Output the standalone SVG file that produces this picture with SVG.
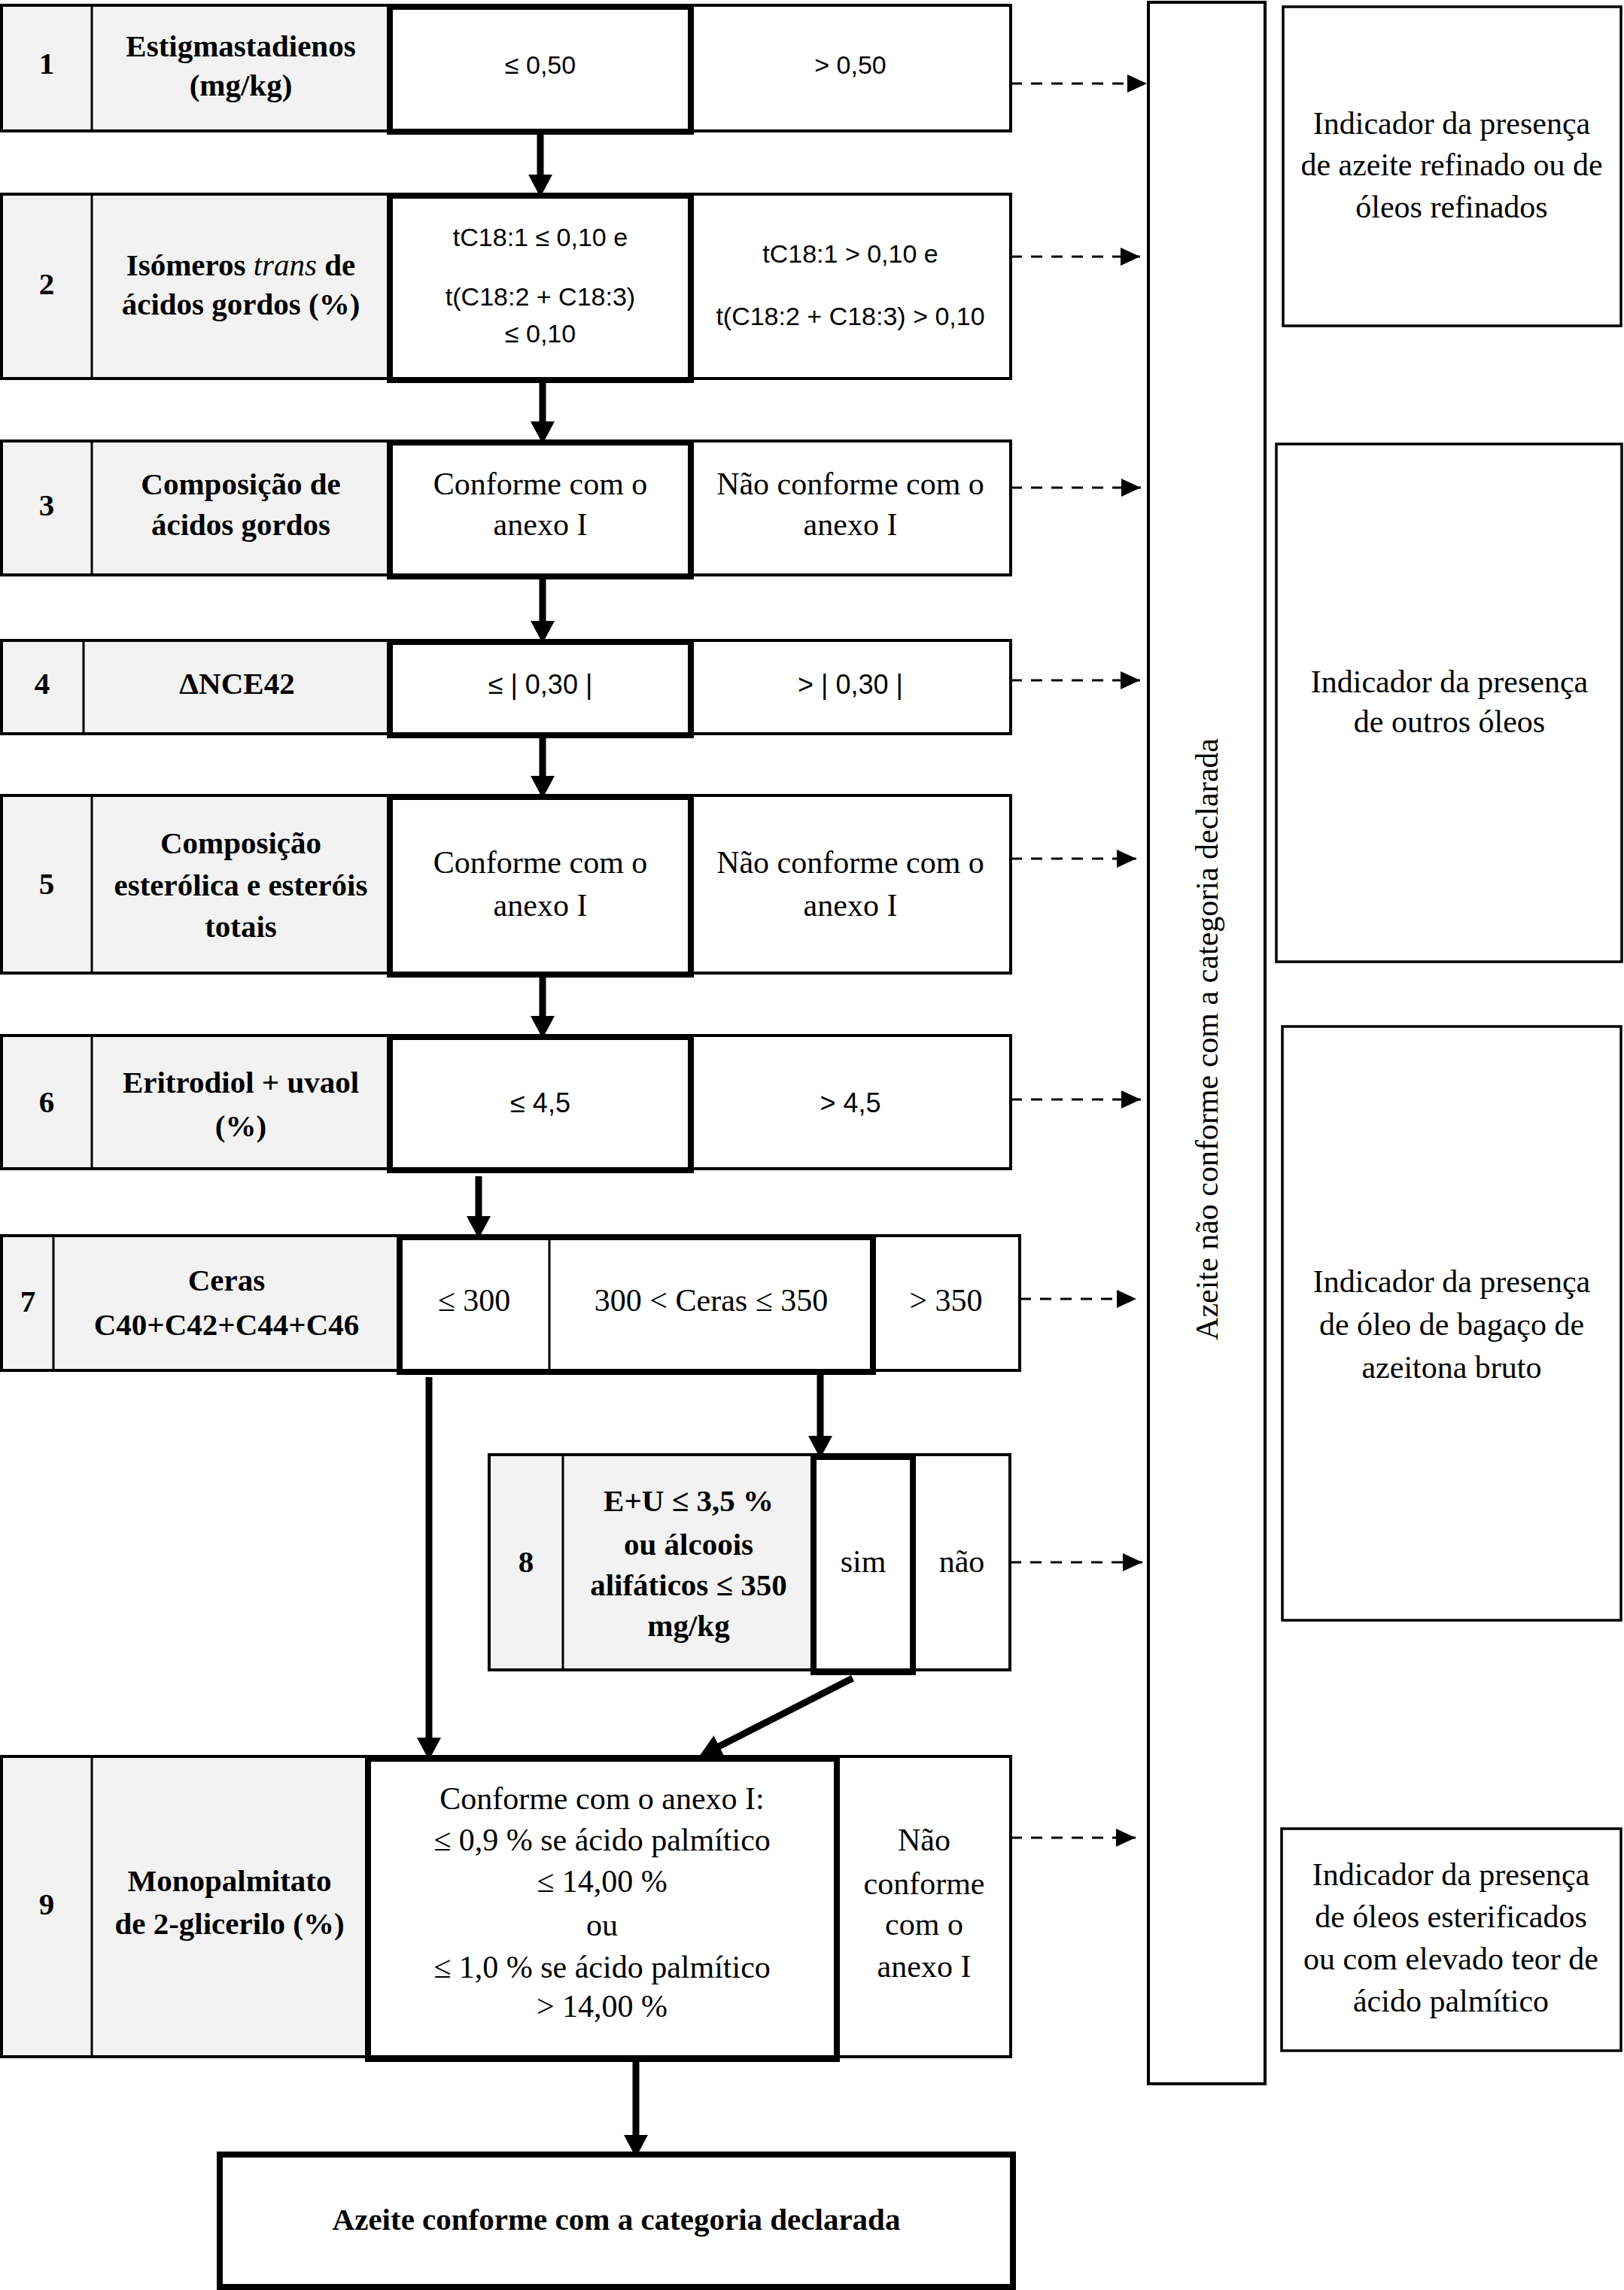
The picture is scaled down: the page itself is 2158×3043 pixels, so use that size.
<svg xmlns="http://www.w3.org/2000/svg" width="2158" height="3043" viewBox="0 0 2158 3043">
<defs>
<style>
.thin{fill:none;stroke:#000;stroke-width:4}
.dv{stroke:#000;stroke-width:3}
.bold{fill:none;stroke:#000;stroke-width:8}
.box{fill:#fff;stroke:#000;stroke-width:3.5}
.gray{fill:#f2f2f2}
.t{font-family:"Liberation Serif","Times New Roman",serif;font-size:42px;text-anchor:middle;fill:#000}
.b{font-weight:bold;font-size:41px}
.s{font-family:"Liberation Sans",Arial,sans-serif;font-size:34px}
.s2{font-family:"Liberation Sans",Arial,sans-serif;font-size:36px}
.arr{stroke:#000;stroke-width:9;fill:none}
.dash{stroke:#000;stroke-width:3;stroke-dasharray:15 12;fill:none}
</style>
<marker id="ah" markerUnits="userSpaceOnUse" markerWidth="30" markerHeight="32" refX="16" refY="16" orient="auto">
<path d="M0,0 L30,16 L0,32 z" fill="#000"/>
</marker>
<marker id="dh" markerUnits="userSpaceOnUse" markerWidth="26" markerHeight="24" refX="26" refY="12" orient="auto">
<path d="M0,0 L26,12 L0,24 z" fill="#000"/>
</marker>
</defs>
<rect width="2158" height="3043" fill="#fff"/>

<!-- Row 1 -->
<g id="row1">
<rect class="gray" x="2" y="7" width="516" height="167"/>
<rect class="thin" x="2" y="7" width="1341" height="167"/>
<line class="dv" x1="122" y1="7" x2="122" y2="174"/>
<rect class="bold" x="518" y="9" width="400" height="166"/>
<text class="t b" x="62" y="98">1</text>
<text class="t b" x="320" y="75">Estigmastadienos</text>
<text class="t b" x="320" y="127">(mg/kg)</text>
<text class="t s" x="718" y="98">≤ 0,50</text>
<text class="t s" x="1130" y="98">&gt; 0,50</text>
</g>

<!-- Row 2 -->
<g id="row2">
<rect class="gray" x="2" y="258" width="516" height="245"/>
<rect class="thin" x="2" y="258" width="1341" height="245"/>
<line class="dv" x1="122" y1="258" x2="122" y2="503"/>
<rect class="bold" x="518" y="260" width="400" height="245"/>
<text class="t b" x="62" y="391">2</text>
<text class="t b" x="320" y="366">Isómeros <tspan font-style="italic" font-weight="normal">trans</tspan> de</text>
<text class="t b" x="320" y="418">ácidos gordos (%)</text>
<text class="t s" x="718" y="327">tC18:1 ≤ 0,10 e</text>
<text class="t s" x="718" y="406">t(C18:2 + C18:3)</text>
<text class="t s" x="718" y="455">≤ 0,10</text>
<text class="t s" x="1130" y="349">tC18:1 &gt; 0,10 e</text>
<text class="t s" x="1130" y="432">t(C18:2 + C18:3) &gt; 0,10</text>
</g>

<!-- Row 3 -->
<g id="row3">
<rect class="gray" x="2" y="586" width="516" height="178"/>
<rect class="thin" x="2" y="586" width="1341" height="178"/>
<line class="dv" x1="122" y1="586" x2="122" y2="764"/>
<rect class="bold" x="518" y="588" width="400" height="178"/>
<text class="t b" x="62" y="685">3</text>
<text class="t b" x="320" y="657">Composição de</text>
<text class="t b" x="320" y="711">ácidos gordos</text>
<text class="t" x="718" y="657">Conforme com o</text>
<text class="t" x="718" y="711">anexo I</text>
<text class="t" x="1130" y="657">Não conforme com o</text>
<text class="t" x="1130" y="711">anexo I</text>
</g>

<!-- Row 4 -->
<g id="row4">
<rect class="gray" x="2" y="851" width="516" height="124"/>
<rect class="thin" x="2" y="851" width="1341" height="124"/>
<line class="dv" x1="111" y1="851" x2="111" y2="975"/>
<rect class="bold" x="518" y="853" width="400" height="124"/>
<text class="t b" x="56" y="922">4</text>
<text class="t b" x="315" y="922">ΔNCE42</text>
<text class="t s2" x="718" y="922">≤ | 0,30 |</text>
<text class="t s2" x="1130" y="922">&gt; | 0,30 |</text>
</g>

<!-- Row 5 -->
<g id="row5">
<rect class="gray" x="2" y="1057" width="516" height="236"/>
<rect class="thin" x="2" y="1057" width="1341" height="236"/>
<line class="dv" x1="122" y1="1057" x2="122" y2="1293"/>
<rect class="bold" x="518" y="1059" width="400" height="236"/>
<text class="t b" x="62" y="1188">5</text>
<text class="t b" x="320" y="1134">Composição</text>
<text class="t b" x="320" y="1190">esterólica e esteróis</text>
<text class="t b" x="320" y="1245">totais</text>
<text class="t" x="718" y="1160">Conforme com o</text>
<text class="t" x="718" y="1217">anexo I</text>
<text class="t" x="1130" y="1160">Não conforme com o</text>
<text class="t" x="1130" y="1217">anexo I</text>
</g>

<!-- Row 6 -->
<g id="row6">
<rect class="gray" x="2" y="1376" width="516" height="177"/>
<rect class="thin" x="2" y="1376" width="1341" height="177"/>
<line class="dv" x1="122" y1="1376" x2="122" y2="1553"/>
<rect class="bold" x="518" y="1378" width="400" height="177"/>
<text class="t b" x="62" y="1478">6</text>
<text class="t b" x="320" y="1452">Eritrodiol + uvaol</text>
<text class="t b" x="320" y="1510">(%)</text>
<text class="t s2" x="718" y="1478">≤ 4,5</text>
<text class="t s2" x="1130" y="1478">&gt; 4,5</text>
</g>

<!-- Row 7 -->
<g id="row7">
<rect class="gray" x="2" y="1642" width="529" height="179"/>
<rect class="thin" x="2" y="1642" width="1353" height="179"/>
<line class="dv" x1="71" y1="1642" x2="71" y2="1821"/>
<line class="dv" x1="730" y1="1642" x2="730" y2="1821"/>
<rect class="bold" x="531" y="1644" width="629" height="179"/>
<text class="t b" x="37" y="1743">7</text>
<text class="t b" x="301" y="1715">Ceras</text>
<text class="t b" x="301" y="1774">C40+C42+C44+C46</text>
<text class="t" x="630" y="1742">≤ 300</text>
<text class="t" x="945" y="1742">300 &lt; Ceras ≤ 350</text>
<text class="t" x="1257" y="1742">&gt; 350</text>
</g>

<!-- Row 8 -->
<g id="row8">
<rect class="gray" x="650" y="1933" width="431" height="286"/>
<rect class="thin" x="650" y="1933" width="692" height="286"/>
<line class="dv" x1="748" y1="1933" x2="748" y2="2219"/>
<rect class="bold" x="1081" y="1936" width="132" height="286"/>
<text class="t b" x="699" y="2089">8</text>
<text class="t b" x="915" y="2008">E+U ≤ 3,5 %</text>
<text class="t b" x="915" y="2066">ou álcoois</text>
<text class="t b" x="915" y="2120">alifáticos ≤ 350</text>
<text class="t b" x="915" y="2174">mg/kg</text>
<text class="t" x="1147" y="2089">sim</text>
<text class="t" x="1278" y="2089">não</text>
</g>

<!-- Row 9 -->
<g id="row9">
<rect class="gray" x="2" y="2334" width="487" height="399"/>
<rect class="thin" x="2" y="2334" width="1341" height="399"/>
<line class="dv" x1="122" y1="2334" x2="122" y2="2733"/>
<rect class="bold" x="489" y="2337" width="623" height="399"/>
<text class="t b" x="62" y="2544">9</text>
<text class="t b" x="305" y="2513">Monopalmitato</text>
<text class="t b" x="305" y="2570">de 2-glicerilo (%)</text>
<text class="t" x="800" y="2404">Conforme com o anexo I:</text>
<text class="t" x="800" y="2459">≤ 0,9 % se ácido palmítico</text>
<text class="t" x="800" y="2514">≤ 14,00 %</text>
<text class="t" x="800" y="2572">ou</text>
<text class="t" x="800" y="2628">≤ 1,0 % se ácido palmítico</text>
<text class="t" x="800" y="2680">&gt; 14,00 %</text>
<text class="t" x="1228" y="2459">Não</text>
<text class="t" x="1228" y="2517">conforme</text>
<text class="t" x="1228" y="2571">com o</text>
<text class="t" x="1228" y="2627">anexo I</text>
</g>

<!-- Final -->
<g id="final">
<rect class="bold" x="292" y="2863" width="1054" height="176"/>
<text class="t b" x="819" y="2963">Azeite conforme com a categoria declarada</text>
</g>

<!-- Tall box -->
<g id="nao-conforme">
<rect class="thin" x="1526" y="3" width="155" height="2766"/>
<text class="t" x="1604" y="1395" transform="rotate(-90 1604 1381)" font-size="41">Azeite não conforme com a categoria declarada</text>
</g>

<!-- Right boxes -->
<g id="ind-refinado">
<rect class="box" x="1705" y="9" width="449" height="424"/>
<text class="t" x="1929" y="178">Indicador da presença</text>
<text class="t" x="1929" y="233">de azeite refinado ou de</text>
<text class="t" x="1929" y="289">óleos refinados</text>
</g>
<g id="ind-outros">
<rect class="box" x="1696" y="590" width="459" height="688"/>
<text class="t" x="1926" y="920">Indicador da presença</text>
<text class="t" x="1926" y="973">de outros óleos</text>
</g>
<g id="ind-bagaco">
<rect class="box" x="1704" y="1364" width="450" height="789"/>
<text class="t" x="1929" y="1717">Indicador da presença</text>
<text class="t" x="1929" y="1774">de óleo de bagaço de</text>
<text class="t" x="1929" y="1831">azeitona bruto</text>
</g>
<g id="ind-esterificados">
<rect class="box" x="1703" y="2430" width="451" height="295"/>
<text class="t" x="1928" y="2505">Indicador da presença</text>
<text class="t" x="1928" y="2561">de óleos esterificados</text>
<text class="t" x="1928" y="2617">ou com elevado teor de</text>
<text class="t" x="1928" y="2673">ácido palmítico</text>
</g>

<!-- Connectors -->
<g id="connectors">
<line class="arr" x1="718" y1="178" x2="718" y2="248" marker-end="url(#ah)"/>
<line class="arr" x1="721" y1="508" x2="721" y2="576" marker-end="url(#ah)"/>
<line class="arr" x1="721" y1="769" x2="721" y2="841" marker-end="url(#ah)"/>
<line class="arr" x1="721" y1="980" x2="721" y2="1047" marker-end="url(#ah)"/>
<line class="arr" x1="721" y1="1298" x2="721" y2="1366" marker-end="url(#ah)"/>
<line class="arr" x1="636" y1="1563" x2="636" y2="1632" marker-end="url(#ah)"/>
<line class="arr" x1="570" y1="1830" x2="570" y2="2325" marker-end="url(#ah)"/>
<line class="arr" x1="1090" y1="1827" x2="1090" y2="1924" marker-end="url(#ah)"/>
<line class="arr" x1="1133" y1="2230" x2="941.5" y2="2327.7" marker-end="url(#ah)"/>
<line class="arr" x1="845" y1="2738" x2="845" y2="2853" marker-end="url(#ah)"/>
<line class="dash" x1="1343" y1="111" x2="1524" y2="111" marker-end="url(#dh)"/>
<line class="dash" x1="1343" y1="341" x2="1515" y2="341" marker-end="url(#dh)"/>
<line class="dash" x1="1343" y1="648" x2="1516" y2="648" marker-end="url(#dh)"/>
<line class="dash" x1="1343" y1="904" x2="1515" y2="904" marker-end="url(#dh)"/>
<line class="dash" x1="1343" y1="1141" x2="1510" y2="1141" marker-end="url(#dh)"/>
<line class="dash" x1="1343" y1="1461" x2="1516" y2="1461" marker-end="url(#dh)"/>
<line class="dash" x1="1355" y1="1726" x2="1510" y2="1726" marker-end="url(#dh)"/>
<line class="dash" x1="1342" y1="2076" x2="1518" y2="2076" marker-end="url(#dh)"/>
<line class="dash" x1="1343" y1="2442" x2="1509" y2="2442" marker-end="url(#dh)"/>
</g>
</svg>
